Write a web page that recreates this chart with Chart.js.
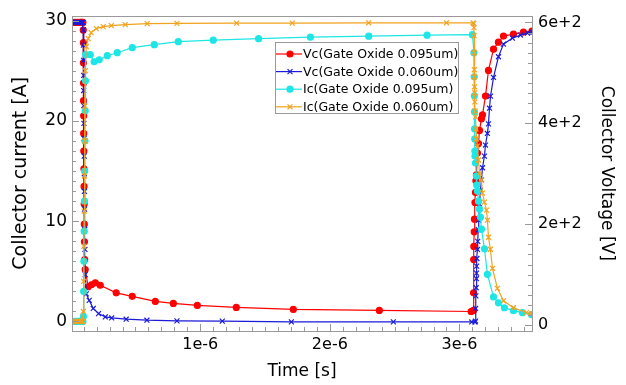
<!DOCTYPE html>
<html>
<head>
<meta charset="utf-8">
<script src="https://cdn.jsdelivr.net/npm/chart.js@4"></script>
<style>
  html, body { margin: 0; padding: 0; background: #fff; }
</style>
</head>
<body>
<canvas id="lineChart" width="626" height="385"></canvas>
<script>
// time in units of 1e-6 s
var tVc095 = [0.01,0.025,0.04,0.055,0.07,0.08,0.088,0.094,
  0.097,0.098,0.098,0.099,0.099,0.100,0.100,0.101,0.102,0.103,0.104,0.105,0.106,0.108,0.112,
  0.135,0.16,0.19,0.228,0.351,0.475,0.653,0.792,0.977,1.278,1.718,2.382,3.09,
  3.108,3.109,3.110,3.111,3.114,3.116,3.120,3.124,3.127,3.131,3.139,3.147,3.155,3.170,3.178,3.201,3.224,3.263,3.301,3.340,3.417,3.494,3.56];
var vc095 = [600,600,600,600,600,600,600,600,
  585,560,520,480,445,415,380,345,310,275,240,200,165,130,110,
  76,80,84,79,64,57,47,43,39,35,31,29,27,
  29,64,130,156,185,210,243,263,286,298,341,360,386,409,417,454,505,547,561,573,577,581,583];

var tVc060 = [0.01,0.022,0.034,0.046,0.058,0.07,0.08,0.088,0.094,
  0.097,0.098,0.099,0.100,0.100,0.101,0.102,0.103,0.104,0.105,0.106,0.107,0.108,0.110,0.112,
  0.12,0.143,0.174,0.215,0.267,0.316,0.428,0.588,0.82,1.17,1.703,2.49,3.095,
  3.12,3.124,3.125,3.127,3.129,3.131,3.132,3.133,3.135,3.139,3.141,3.145,3.149,3.155,3.162,3.170,3.178,3.193,3.201,3.216,3.224,3.232,3.240,3.263,3.301,3.340,3.409,3.471,3.525,3.56];
var vc060 = [600,600,600,600,600,600,600,600,600,
  585,555,525,495,465,435,400,370,335,300,265,230,190,150,100,
  62,49,33,22.8,16.2,14.2,11.7,9.7,8.4,7.8,6.4,6.4,6.2,
  6,8,33,58,74,92,103,117,132,150,166,189,208,240,267,288,312,335,357,380,399,430,454,491,532,557,569,575,579,581];

var tIc095 = [0.01,0.025,0.04,0.055,0.07,0.08,0.088,0.094,
  0.098,0.100,0.102,0.104,0.106,0.108,0.110,0.112,0.114,0.116,
  0.151,0.181,0.22,0.282,0.359,0.475,0.645,0.83,1.1,1.45,1.85,2.3,2.75,3.1,
  3.112,3.114,3.115,3.116,3.117,3.118,3.119,3.120,3.124,3.131,3.133,3.139,3.147,3.155,3.162,3.170,3.193,3.216,3.263,3.301,3.347,3.417,3.486,3.556];
var ic095 = [0,0,0,0,0,0,0,0,
  0.5,3,6,9,12,15,18,21,24,26.6,
  26.6,25.9,26.1,26.5,26.8,27.3,27.6,27.9,28.05,28.2,28.35,28.45,28.55,28.6,
  26.8,24.4,22.5,20.9,19.2,18.2,17.0,16.5,15.8,14.5,13.6,13.0,12.0,11.2,10.4,9.2,7.25,4.7,2.45,1.86,1.37,1.08,0.88,0.69];

var tIc060 = [0.01,0.022,0.034,0.046,0.058,0.07,0.08,0.088,0.094,
  0.098,0.100,0.102,0.104,0.106,0.108,0.110,0.112,
  0.12,0.135,0.158,0.197,0.251,0.313,0.421,0.59,0.82,1.28,1.71,2.3,2.9,3.105,
  3.111,3.112,3.113,3.114,3.115,3.116,3.117,3.118,3.119,3.120,
  3.124,3.128,3.131,3.139,3.147,3.155,3.170,3.178,3.193,3.209,3.216,3.224,3.239,3.255,3.293,3.340,3.417,3.517,3.56];
var ic060 = [0,0,0,0,0,0,0,0,0,
  1,4,7.5,11,14.5,18,21.5,25,
  27.4,28.2,28.8,29.2,29.4,29.5,29.6,29.7,29.72,29.75,29.75,29.78,29.78,29.78,
  29.7,29.3,28.5,26.8,25.1,24.4,23.4,22.8,21.9,21.0,
  20.4,19.2,18.2,17.5,16.1,14.8,14.1,12.8,11.9,11.1,10.1,8.4,7.2,5.3,3.3,2.06,1.37,0.88,0.78];

var seriesNames = ['Vc(Gate Oxide 0.095um)', 'Vc(Gate Oxide 0.060um)', 'Ic(Gate Oxide 0.095um)', 'Ic(Gate Oxide 0.060um)'];
var xTicks = [1, 2, 3];
var currentTicks = [0, 10, 20, 30];
var voltageTicks = [0, 200, 400, 600];

var FONT = "'DejaVu Sans', sans-serif";

function pts(t, v) {
  return t.map(function (x, i) { return { x: x, y: v[i] }; });
}

// inward ticks, major and minor, plus the frame
var frameTicks = {
  id: 'frameTicks',
  afterDraw: function (chart) {
    var ctx = chart.ctx, a = chart.chartArea;
    var sx = chart.scales.x, sl = chart.scales.yI, sr = chart.scales.yV;
    ctx.save();
    ctx.strokeStyle = '#999';
    ctx.lineWidth = 1;
    ctx.strokeRect(Math.round(a.left) + 0.5, Math.round(a.top) + 0.5, Math.round(a.right - a.left), Math.round(a.bottom - a.top));
    ctx.beginPath();
    var i, p, len;
    for (i = 1; i <= 35; i++) {
      p = Math.round(sx.getPixelForValue(i / 10)) + 0.5;
      len = (i % 10 === 0) ? 7 : 4;
      ctx.moveTo(p, a.bottom); ctx.lineTo(p, a.bottom - len);
    }
    for (i = 0; i <= 30; i++) {
      p = Math.round(sl.getPixelForValue(i)) + 0.5;
      len = (i % 10 === 0) ? 7 : 4;
      ctx.moveTo(a.left, p); ctx.lineTo(a.left + len, p);
    }
    for (i = 0; i <= 30; i++) {
      p = Math.round(sr.getPixelForValue(i * 20)) + 0.5;
      len = (i % 10 === 0) ? 7 : 4;
      ctx.moveTo(a.right, p); ctx.lineTo(a.right - len, p);
    }
    ctx.stroke();
    ctx.restore();
  }
};

var boxLegend = {
  id: 'boxLegend',
  afterDraw: function (chart) {
    var ctx = chart.ctx;
    var bx = 275, by = 42, bw = 183, bh = 71;
    ctx.save();
    ctx.fillStyle = '#fff';
    ctx.fillRect(bx, by, bw, bh);
    ctx.strokeStyle = '#999';
    ctx.lineWidth = 1;
    ctx.strokeRect(bx + 0.5, by + 0.5, bw, bh);
    ctx.font = '12.5px ' + FONT;
    ctx.textBaseline = 'middle';
    chart.data.datasets.forEach(function (ds, i) {
      var y = by + 12 + i * 17.6;
      ctx.strokeStyle = ds.borderColor;
      ctx.fillStyle = ds.borderColor;
      ctx.lineWidth = 1.2;
      ctx.beginPath();
      ctx.moveTo(bx + 1, y); ctx.lineTo(bx + 27, y);
      ctx.stroke();
      Chart.helpers.drawPoint(ctx, { pointStyle: ds.pointStyle, radius: ds.pointRadius, borderWidth: 1.2 }, bx + 15, y);
      ctx.fillStyle = '#000';
      ctx.fillText(ds.label, bx + 28, y + 1);
    });
    ctx.restore();
  }
};

function makeSet(label, data, color, style, axis, order) {
  return {
    label: label,
    data: data,
    yAxisID: axis,
    borderColor: color,
    backgroundColor: color,
    pointBackgroundColor: color,
    pointBorderColor: color,
    pointStyle: style,
    pointRadius: style === 'circle' ? 3 : 3.5,
    pointBorderWidth: 1.2,
    borderWidth: 1.2,
    tension: 0,
    order: order
  };
}

var ctx = document.getElementById('lineChart').getContext('2d');
var myChart = new Chart(ctx, {
  type: 'line',
  data: {
    datasets: [
      makeSet(seriesNames[0], pts(tVc095, vc095), '#ff0000', 'circle', 'yV', 4),
      makeSet(seriesNames[1], pts(tVc060, vc060), '#1a1ad8', 'crossRot', 'yV', 3),
      makeSet(seriesNames[2], pts(tIc095, ic095), '#1ee6e6', 'circle', 'yI', 2),
      makeSet(seriesNames[3], pts(tIc060, ic060), '#f2a21e', 'crossRot', 'yI', 1)
    ]
  },
  options: {
    responsive: false,
    animation: false,
    layout: { padding: { top: 10, left: 0, right: 0, bottom: 0 } },
    plugins: { legend: { display: false }, tooltip: { enabled: false } },
    scales: {
      x: {
        type: 'linear',
        min: 0.01, max: 3.56,
        grid: { display: false, drawTicks: false },
        border: { display: false },
        afterBuildTicks: function (s) { s.ticks = xTicks.map(function (v) { return { value: v }; }); },
        afterFit: function (s) { s.height = 54; },
        ticks: {
          padding: 4, color: '#000', maxRotation: 0,
          font: { family: FONT, size: 16 },
          callback: function (v) { return v + 'e-6'; }
        },
        title: { display: true, text: 'Time [s]', color: '#000', font: { family: FONT, size: 17 }, padding: { top: 0, bottom: 3 } }
      },
      yI: {
        type: 'linear', position: 'left',
        min: -0.95, max: 30.5,
        grid: { display: false, drawTicks: false },
        border: { display: false },
        afterBuildTicks: function (s) { s.ticks = currentTicks.map(function (v) { return { value: v }; }); },
        afterFit: function (s) { s.width = 72; },
        ticks: { padding: 5, color: '#000', font: { family: FONT, size: 17 } },
        title: { display: true, text: 'Collector current [A]', color: '#000', font: { family: FONT, size: 19 }, padding: { top: 10, bottom: 0 } }
      },
      yV: {
        type: 'linear', position: 'right',
        min: -11.7, max: 613.6,
        grid: { display: false, drawTicks: false },
        border: { display: false },
        afterBuildTicks: function (s) { s.ticks = voltageTicks.map(function (v) { return { value: v }; }); },
        afterFit: function (s) { s.width = 94; },
        ticks: {
          padding: 6, color: '#000', font: { family: FONT, size: 16 },
          callback: function (v) { return v === 0 ? '0' : (v / 100) + 'e+2'; }
        },
        title: { display: true, text: 'Collector Voltage [V]', color: '#000', font: { family: FONT, size: 17 }, padding: { top: 9, bottom: 0 } }
      }
    }
  },
  plugins: [frameTicks, boxLegend]
});
</script>
</body>
</html>
